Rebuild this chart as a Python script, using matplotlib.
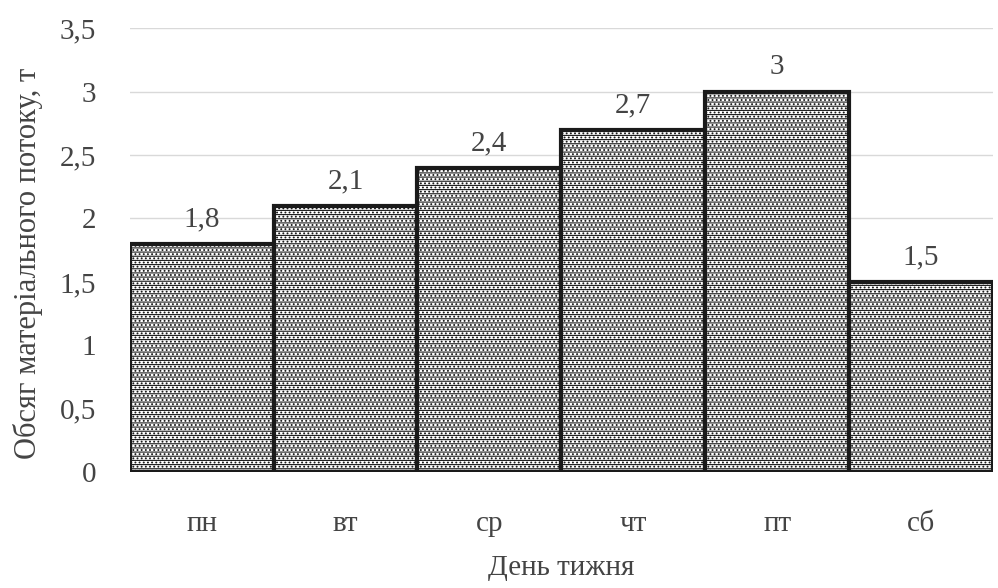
import matplotlib
matplotlib.use("Agg")
import matplotlib.pyplot as plt

days = ["пн", "вт", "ср", "чт", "пт", "сб"]
values = [1.8, 2.1, 2.4, 2.7, 3.0, 1.5]
yticks = [0, 0.5, 1, 1.5, 2, 2.5, 3, 3.5]

def fmt(v):
    s = ("%g" % v).replace(".", ",")
    return s

plt.rcParams['font.family'] = ['Liberation Serif', 'DejaVu Serif']
plt.rcParams['hatch.color'] = '#8a8a8a'
plt.rcParams['hatch.linewidth'] = 0.8

fig = plt.figure(figsize=(9.98, 5.88), dpi=100)
ax = fig.add_axes([0.130, 0.197, 0.865, 0.755])

x = list(range(len(days)))
bars = ax.bar(x, values, width=1.0, color='white', edgecolor='#1a1a1a',
              linewidth=3, hatch='----....', zorder=3)
for xi, v in zip(x, values):
    ax.text(xi, v + 0.09, fmt(v), ha='center', va='bottom', fontsize=21, color='#444444')

ax.set_xlim(-0.5, len(days) - 0.5)
ax.set_ylim(0, 3.5)
ax.set_yticks(yticks)
ax.set_yticklabels([fmt(t) for t in yticks], fontsize=21, color='#444444')
ax.set_xticks(x)
ax.set_xticklabels(days, fontsize=21, color='#444444')
ax.tick_params(axis='both', length=0)
ax.tick_params(axis='y', pad=24)
ax.tick_params(axis='x', pad=28)
ax.yaxis.grid(True, color='#d9d9d9', linewidth=1, zorder=0)
for s in ax.spines.values():
    s.set_visible(False)
ax.set_xlabel("День тижня", fontsize=21, color='#444444', labelpad=13)
ax.set_ylabel("Обсяг матеріального потоку, т", fontsize=22, color='#444444')
ax.yaxis.set_label_coords(-0.100, 0.47)

fig.savefig("out.png", dpi=100)
